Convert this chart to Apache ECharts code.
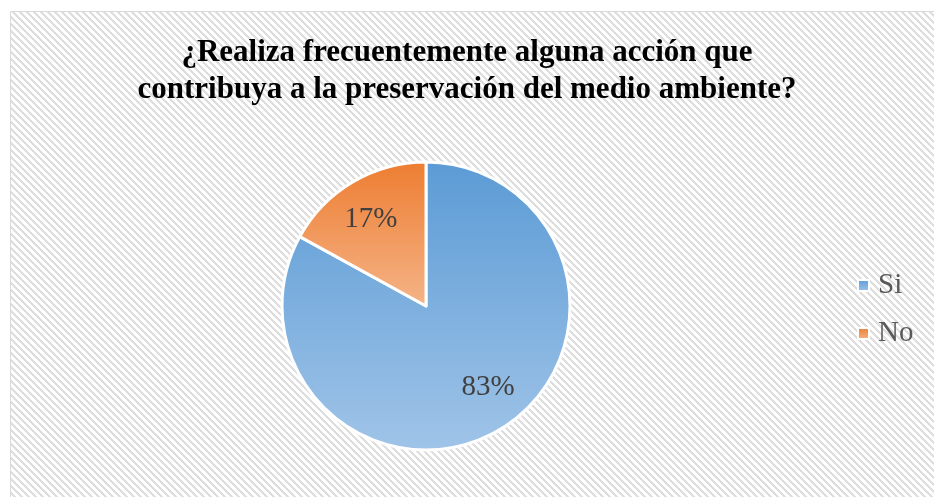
<!DOCTYPE html>
<html>
<head>
<meta charset="utf-8">
<script src="https://cdn.jsdelivr.net/npm/echarts@6/dist/echarts.min.js"></script>
<style>
  html, body { margin: 0; padding: 0; background: #fff; }
  #chart { width: 934px; height: 497px; }
</style>
</head>
<body>
<div id="chart"></div>
<script>
// datos
const categories = ['Si', 'No'];
const values = [83, 17];
const titleText = '¿Realiza frecuentemente alguna acción que\ncontribuya a la preservación del medio ambiente?';

// colores degradados (arriba -> abajo) de cada porción
const topColors = ['#5b9bd5', '#ed7d31'];
const bottomColors = ['#a0c4e8', '#f5b488'];

// fondo rayado diagonal
const tile = document.createElement('canvas');
tile.width = 7;
tile.height = 7;
const tctx = tile.getContext('2d');
tctx.fillStyle = '#ffffff';
tctx.fillRect(0, 0, 7, 7);
tctx.fillStyle = '#dedede';
for (let y = 0; y < 7; y++) {
    for (let x = 0; x < 7; x++) {
        if ((((x - y) % 7) + 7) % 7 < 3) tctx.fillRect(x, y, 1, 1);
    }
}

const chart = echarts.init(document.getElementById('chart'), null, { renderer: 'canvas' });

chart.setOption({
    backgroundColor: '#ffffff',
    animation: false,
    graphic: [{
        type: 'rect',
        z: -10,
        silent: true,
        shape: { x: 10.5, y: 11.5, width: 930, height: 490 },
        style: {
            fill: { image: tile, repeat: 'repeat' },
            stroke: '#d9d9d9',
            lineWidth: 1
        }
    }],
    title: {
        text: titleText,
        left: 'center',
        top: 29,
        textStyle: {
            fontFamily: 'Liberation Serif',
            fontWeight: 'bold',
            fontSize: 31,
            lineHeight: 37,
            color: '#000000'
        }
    },
    legend: {
        orient: 'vertical',
        left: 857,
        top: 271,
        padding: 0,
        itemWidth: 11,
        itemHeight: 11,
        itemGap: 19,
        icon: 'rect',
        data: categories,
        textStyle: {
            fontFamily: 'Liberation Serif',
            fontSize: 29,
            color: '#595959',
            padding: [0, 0, 0, 4]
        }
    },
    series: [{
        type: 'pie',
        center: [426, 306],
        radius: 144,
        startAngle: 90,
        clockwise: true,
        itemStyle: { borderColor: '#ffffff', borderWidth: 3 },
        label: {
            show: true,
            position: 'inside',
            formatter: '{d}%',
            fontFamily: 'Liberation Serif',
            fontSize: 29,
            color: '#404040'
        },
        labelLine: { show: false },
        emphasis: { disabled: true },
        labelLayout: function (params) {
            // desplaza las etiquetas como en el original
            const shift = [[24, 17], [-17, -22]];
            return { dx: shift[params.dataIndex][0], dy: shift[params.dataIndex][1] };
        },
        data: categories.map(function (name, i) {
            return {
                name: name,
                value: values[i],
                itemStyle: {
                    color: new echarts.graphic.LinearGradient(0, 0, 0, 1, [
                        { offset: 0, color: topColors[i] },
                        { offset: 1, color: bottomColors[i] }
                    ])
                }
            };
        })
    }]
});
</script>
</body>
</html>
